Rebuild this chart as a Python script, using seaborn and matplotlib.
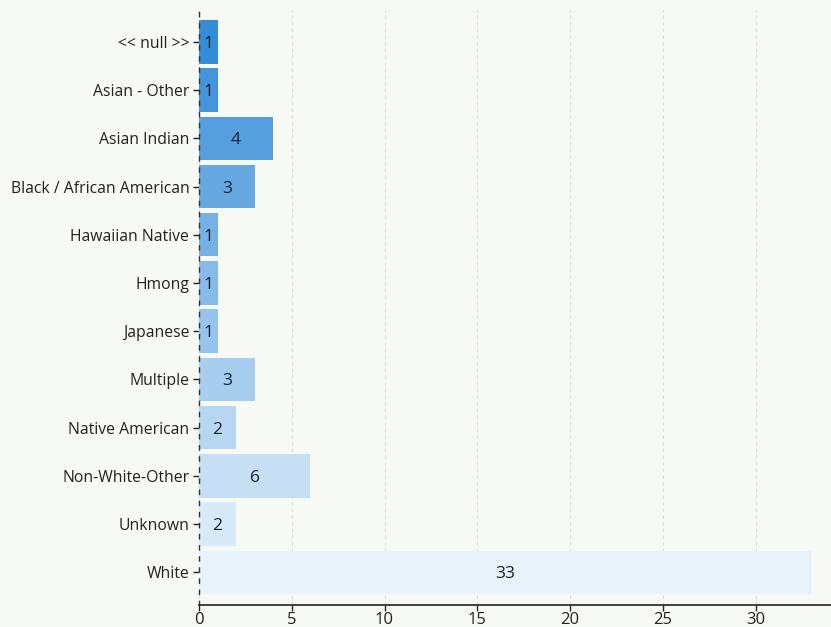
import matplotlib
matplotlib.use("Agg")
import matplotlib.pyplot as plt
import seaborn as sns
import numpy as np
import pandas as pd
from matplotlib.colors import to_rgb

categories = ["<< null >>", "Asian - Other", "Asian Indian", "Black / African American",
              "Hawaiian Native", "Hmong", "Japanese", "Multiple", "Native American",
              "Non-White-Other", "Unknown", "White"]
counts = [1, 1, 4, 3, 1, 1, 1, 3, 2, 6, 2, 33]
xticks = [0, 5, 10, 15, 20, 25, 30]

bg = "#f7f9f4"
sns.set_theme(style="white")
plt.rcParams['font.family'] = ['Open Sans', 'DejaVu Sans']

c0 = np.array(to_rgb("#358cd9"))
c1 = np.array(to_rgb("#e8f2fb"))
n = len(categories)
palette = [tuple(c0 + (c1 - c0) * i / (n - 1)) for i in range(n)]

df = pd.DataFrame({"category": categories, "count": counts})

fig = plt.figure(figsize=(8.31, 6.27), dpi=100, facecolor=bg)
ax = fig.add_axes([0.2395, 0.035, 0.7605, 0.949])
ax.set_facecolor(bg)

sns.barplot(data=df, y="category", x="count", hue="category", palette=palette,
            order=categories, hue_order=categories, legend=False, width=0.9,
            saturation=1, linewidth=0, ax=ax, zorder=2)

for i, v in enumerate(counts):
    ax.text(v / 2, i, str(v), ha="center", va="center_baseline", fontsize=12.5,
            color="#14202e", zorder=3)

ax.set_xlim(0, 34.07)
ax.set_ylim(11.68, -0.66)
ax.set_xticks(xticks)
ax.set_xticklabels([str(t) for t in xticks], fontsize=12, color="#222222")
ax.tick_params(axis="y", labelsize=11.3, colors="#222222", length=4, width=1, left=True, pad=3)
ax.tick_params(axis="x", length=4, width=1, bottom=True, pad=1)
for lab in ax.get_yticklabels():
    lab.set_color("#222222")
ax.xaxis.grid(True, linestyle=(0, (3, 3)), color="#dddddd", linewidth=0.8, zorder=0)
ax.yaxis.grid(False)
ax.set_xlabel("")
ax.set_ylabel("")
for s in ["top", "right"]:
    ax.spines[s].set_visible(False)
ax.spines["bottom"].set_color("#222222")
ax.spines["bottom"].set_linewidth(1.2)
ax.spines["left"].set_color("#333333")
ax.spines["left"].set_linewidth(1.0)
ax.spines["left"].set_linestyle((0, (3, 5)))

fig.savefig("out.png", dpi=100, facecolor=bg)
